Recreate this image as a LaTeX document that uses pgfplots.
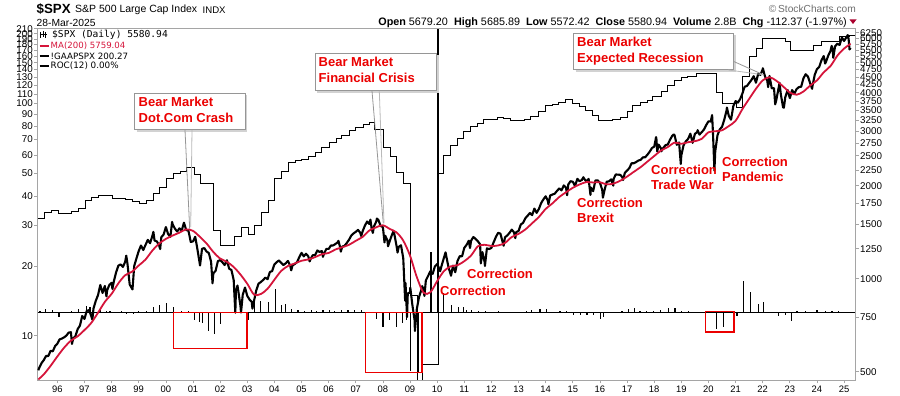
\documentclass[border=0pt]{standalone}
\usepackage{pgfplots}
\pgfplotsset{compat=1.18}
\usepackage{fontspec}
\setmainfont{Liberation Sans}
\newfontfamily\dejavu{DejaVu Sans}
\newfontfamily\dejavumono{DejaVu Sans Mono}
\definecolor{mared}{RGB}{213,20,58}
\definecolor{annred}{RGB}{235,0,0}
\definecolor{framegray}{RGB}{165,165,165}
\definecolor{boxgray}{RGB}{150,150,150}
\definecolor{scgray}{RGB}{110,110,110}
\definecolor{tridark}{RGB}{170,0,45}
\pgfplotsset{base/.style={at={(37pt,15.5pt)}, anchor=south west, scale only axis,
  width=818.5pt, height=352pt, xmin=1995.25, xmax=2025.42,
  axis line style={framegray, line width=0.8pt}, tick style={framegray, line width=0.6pt},
  major tick length=3pt, tick align=outside,
  tick label style={font=\fontsize{9.8}{10}\selectfont, text=black},
  /pgf/number format/assume math mode=true}}
\begin{document}
\begin{tikzpicture}
\path (0pt,0pt) rectangle (900pt,396pt);
% ---------- earnings (left log axis) ----------
\begin{axis}[base, ymode=log, ymin=6.417, ymax=210.5, hide x axis, axis y line*=left,
  ytick={10,20,30,40,50,60,70,80,90,100,110,120,130,140,150,160,170,180,190,200,210},
  yticklabels={10,20,30,40,50,60,70,80,90,100,110,120,130,140,150,160,170,180,190,200,210},
  yticklabel style={inner sep=1pt}, minor ytick={}]
\addplot[const plot, black, line width=0.9pt] coordinates {
(1995.25,32.0) (1995.52,33.8) (1995.79,34.6) (1996.04,33.7) (1996.53,34.3) (1996.77,35.5)
(1997.02,38.1) (1997.26,39.6) (1997.51,40.2) (1998.02,39.0) (1998.51,38.6) (1998.76,37.7)
(1999.01,37.2) (1999.29,38.1) (1999.53,41.0) (1999.78,43.7) (2000.02,47.5) (2000.27,50.2)
(2000.52,50.9) (2000.76,53.0) (2001.07,49.4) (2001.29,45.2) (2001.77,28.5) (2002.02,24.6)
(2002.54,26.7) (2002.78,29.4) (2003.03,27.4) (2003.28,29.9) (2003.53,33.8) (2003.78,38.3)
(2004.02,47.8) (2004.27,51.1) (2004.51,55.5) (2004.76,57.0) (2005.00,57.5) (2005.25,58.9)
(2005.50,61.8) (2005.74,65.0) (2006.02,68.3) (2006.29,71.0) (2006.48,72.9) (2006.76,76.7)
(2007.00,79.2) (2007.27,81.1) (2007.50,83.2) (2007.68,77.2) (2008.01,65.0) (2008.28,58.9)
(2008.50,50.7) (2008.75,45.2) (2009.02,14.9) (2009.27,6.0) (2009.47,7.5) (2010.03,50.1)
(2010.24,59.7) (2010.49,65.9) (2010.73,70.8) (2010.98,75.7) (2011.23,79.5) (2011.47,82.2)
(2011.72,85.7) (2012.21,86.9) (2012.46,86.5) (2012.70,84.6) (2013.23,85.7) (2013.44,88.3)
(2013.72,92.3) (2013.99,97.9) (2014.24,99.2) (2014.48,101.2) (2014.73,103.9) (2014.98,100.2)
(2015.25,96.9) (2015.47,93.7) (2015.72,89.2) (2015.96,84.6) (2016.45,85.7) (2016.76,86.9)
(2017.00,92.3) (2017.21,97.9) (2017.49,101.2) (2017.74,103.0) (2017.95,107.0) (2018.26,112.5)
(2018.50,120.0) (2018.74,126.2) (2018.99,129.2) (2019.23,131.2) (2019.54,134.8) (2020.28,112.0)
(2020.52,100.0) (2021.02,96.0) (2021.26,130.5) (2021.51,159.0) (2021.77,172.7) (2022.00,190.7)
(2022.85,184.5) (2023.02,169.8) (2023.87,178.4) (2024.18,184.5) (2024.82,193.9) (2025.19,195.6)
(2025.42,195.6)};
\end{axis}
% ---------- ROC(12) bars ----------
\begin{axis}[base, hide axis, ymin=-83.2, ymax=346.1]
\addplot[black, line width=0.8pt] coordinates {(1995.25,0) (2025.42,0)};
\addplot[ycomb, black, line width=1.2pt] coordinates {
(1995.36,1.2) (1995.55,3.7) (1995.82,2.4) (1996.06,-5.2) (1996.53,1.5) (1996.77,3.7)
(1997.08,7.3) (1997.2,6) (1997.32,2.4) (1997.57,3.7) (1997.81,2) (1997.94,2) (1998.25,-1.2)
(1998.37,1.5) (1998.55,-1.5) (1998.8,-1.5) (1998.98,1) (1999.29,1.3) (1999.53,6) (1999.78,9)
(2000.02,11) (2000.27,6) (2000.57,1.2) (2000.82,1.2) (2001.07,-9.4) (2001.25,-12) (2001.34,-12.6)
(2001.56,-23) (2001.8,-26.5) (2002.02,-14.2) (2002.54,8) (2002.78,10) (2003.06,-9.4)
(2003.28,13) (2003.5,14) (2003.77,13) (2004.03,28) (2004.26,9) (2004.4,10) (2004.62,4)
(2004.87,2.5) (2005.12,2) (2005.36,2.5) (2005.54,2) (2005.79,3) (2006.04,3) (2006.22,2)
(2006.46,3) (2006.71,3) (2006.96,2.5) (2007.2,2.5) (2007.75,-8) (2008.0,-17.5) (2008.24,-10)
(2008.51,-18) (2008.73,-12.6) (2008.86,-9.4) (2009.02,-72) (2009.29,-74) (2009.77,74)
(2010.01,400) (2010.05,400) (2010.23,24) (2010.54,9) (2010.78,6.5) (2010.97,6.5) (2011.09,3.3)
(2011.28,3.3) (2011.52,2) (2011.77,2) (2012.26,1) (2012.57,-1) (2012.81,-1) (2013.30,1.2)
(2013.49,2.4) (2013.79,4.5) (2014.04,4.5) (2014.53,2) (2014.78,1.2) (2015.02,-3.7) (2015.27,-3.7)
(2015.52,-3.7) (2015.76,-3.7) (2016.01,-8) (2016.12,-6) (2016.81,1.2) (2017.05,4) (2017.26,5)
(2017.48,2) (2017.73,2) (2017.97,2) (2018.22,3.3) (2018.53,5) (2018.77,5) (2019.02,1.2)
(2019.26,1.2) (2020.0,2) (2020.31,-20) (2020.55,-18) (2021.05,-4) (2021.29,38) (2021.54,25)
(2021.84,10.5) (2022.03,12) (2022.58,-5) (2022.83,-3.7) (2023.07,-11) (2023.26,1.2) (2023.57,2)
(2024.0,3.3) (2024.30,1.2) (2024.55,2) (2024.79,1.2)};
\end{axis}
% ---------- price (right log axis) ----------
\begin{axis}[base, ymode=log, ymin=468.2, ymax=6453,
  ytick pos=right, yticklabel pos=right, xtick pos=bottom,
  xtick={1996,...,2025},
  xticklabels={96,97,98,99,00,01,02,03,04,05,06,07,08,09,10,11,12,13,14,15,16,17,18,19,20,21,22,23,24,25},
  ytick={500,750,1000,1250,1500,1750,2000,2250,2500,2750,3000,3250,3500,3750,4000,4250,4500,4750,5000,5250,5500,5750,6000,6250},
  yticklabels={500,750,1000,1250,1500,1750,2000,2250,2500,2750,3000,3250,3500,3750,4000,4250,4500,4750,5000,5250,5500,5750,6000,6250},
  minor ytick={}, yticklabel style={inner sep=1.5pt}, xticklabel style={inner sep=2pt, font=\fontsize{9.4}{10}\selectfont}]
\addplot[black, line width=2.1pt, line join=round] coordinates {
(1995.30,505) (1995.333,515) (1995.417,533) (1995.5,545) (1995.583,562) (1995.667,562) (1995.75,584)
(1995.833,582) (1995.917,605) (1996.0,616) (1996.083,636) (1996.167,640) (1996.25,646) (1996.333,654)
(1996.417,669) (1996.5,671) (1996.54,615) (1996.583,640) (1996.667,652) (1996.75,687) (1996.833,705)
(1996.917,757) (1997.0,741) (1997.083,786) (1997.167,791) (1997.25,757) (1997.29,737) (1997.333,801)
(1997.417,848) (1997.5,885) (1997.583,954) (1997.667,899) (1997.75,947) (1997.81,876) (1997.833,915)
(1997.917,955) (1998.0,970) (1998.03,927) (1998.083,980) (1998.167,1049) (1998.25,1102) (1998.333,1112)
(1998.417,1091) (1998.5,1134) (1998.54,1187) (1998.583,1121) (1998.667,957) (1998.77,923) (1998.833,1099)
(1998.917,1164) (1999.0,1229) (1999.083,1280) (1999.167,1238) (1999.25,1286) (1999.333,1335)
(1999.417,1302) (1999.5,1373) (1999.54,1418) (1999.583,1329) (1999.667,1320) (1999.75,1283)
(1999.79,1247) (1999.833,1363) (1999.917,1389) (2000.0,1469) (2000.083,1394) (2000.167,1366)
(2000.23,1527) (2000.25,1499) (2000.333,1452) (2000.417,1421) (2000.5,1455) (2000.583,1431)
(2000.667,1518) (2000.75,1437) (2000.833,1429) (2000.917,1315) (2001.0,1320) (2001.083,1366)
(2001.167,1240) (2001.26,1103) (2001.333,1249) (2001.417,1256) (2001.5,1224) (2001.583,1211)
(2001.667,1134) (2001.72,966) (2001.75,1041) (2001.833,1060) (2001.917,1139) (2002.0,1148)
(2002.083,1130) (2002.167,1107) (2002.25,1147) (2002.333,1077) (2002.417,1067) (2002.5,990)
(2002.56,776) (2002.583,912) (2002.64,950) (2002.667,916) (2002.75,815) (2002.77,777) (2002.833,886)
(2002.917,936) (2003.0,880) (2003.083,856) (2003.167,841) (2003.19,800) (2003.25,848) (2003.333,917)
(2003.417,964) (2003.5,975) (2003.583,990) (2003.667,1008) (2003.75,996) (2003.833,1051)
(2003.917,1058) (2004.0,1112) (2004.083,1131) (2004.167,1145) (2004.25,1126) (2004.333,1107)
(2004.417,1121) (2004.5,1141) (2004.583,1102) (2004.62,1064) (2004.667,1104) (2004.75,1115)
(2004.833,1130) (2004.917,1174) (2005.0,1212) (2005.083,1181) (2005.167,1204) (2005.25,1181)
(2005.3,1137) (2005.333,1157) (2005.417,1192) (2005.5,1191) (2005.583,1234) (2005.667,1220)
(2005.75,1229) (2005.79,1177) (2005.833,1207) (2005.917,1249) (2006.0,1248) (2006.083,1280)
(2006.167,1281) (2006.25,1295) (2006.333,1311) (2006.36,1326) (2006.417,1270) (2006.45,1223)
(2006.5,1270) (2006.583,1277) (2006.667,1304) (2006.75,1336) (2006.833,1378) (2006.917,1401)
(2007.0,1418) (2007.083,1438) (2007.167,1407) (2007.2,1374) (2007.25,1421) (2007.333,1482)
(2007.417,1531) (2007.5,1503) (2007.54,1553) (2007.583,1455) (2007.63,1406) (2007.667,1474)
(2007.75,1527) (2007.78,1565) (2007.833,1549) (2007.917,1481) (2008.0,1468) (2008.06,1310)
(2008.083,1378) (2008.167,1331) (2008.19,1273) (2008.25,1323) (2008.333,1386) (2008.39,1426)
(2008.417,1400) (2008.5,1280) (2008.54,1215) (2008.583,1267) (2008.667,1283) (2008.75,1165)
(2008.82,848) (2008.833,969) (2008.89,752) (2008.917,896) (2009.0,903) (2009.01,935) (2009.083,826)
(2009.167,735) (2009.18,677) (2009.25,798) (2009.333,873) (2009.417,919) (2009.45,946) (2009.5,919)
(2009.53,879) (2009.583,987) (2009.667,1021) (2009.75,1057) (2009.833,1036) (2009.917,1096)
(2010.0,1115) (2010.083,1074) (2010.11,1057) (2010.167,1104) (2010.25,1169) (2010.31,1217)
(2010.333,1187) (2010.417,1089) (2010.5,1031) (2010.51,1022) (2010.583,1102) (2010.667,1049)
(2010.75,1141) (2010.833,1183) (2010.917,1181) (2011.0,1258) (2011.083,1286) (2011.167,1327)
(2011.21,1256) (2011.25,1326) (2011.333,1364) (2011.417,1345) (2011.5,1321) (2011.583,1292)
(2011.61,1120) (2011.667,1219) (2011.75,1131) (2011.76,1099) (2011.833,1253) (2011.917,1247)
(2012.0,1258) (2012.083,1312) (2012.167,1366) (2012.25,1408) (2012.333,1398) (2012.417,1310)
(2012.45,1278) (2012.5,1362) (2012.583,1379) (2012.667,1407) (2012.75,1441) (2012.833,1412)
(2012.88,1353) (2012.917,1416) (2013.0,1426) (2013.083,1498) (2013.167,1515) (2013.25,1569)
(2013.333,1598) (2013.417,1631) (2013.5,1606) (2013.583,1686) (2013.667,1633) (2013.75,1682)
(2013.833,1757) (2013.917,1806) (2014.0,1848) (2014.083,1783) (2014.1,1741) (2014.167,1859)
(2014.25,1872) (2014.333,1884) (2014.417,1924) (2014.5,1960) (2014.583,1931) (2014.667,2003)
(2014.75,1972) (2014.79,1862) (2014.833,2018) (2014.917,2068) (2015.0,2059) (2015.083,1995)
(2015.167,2105) (2015.25,2068) (2015.333,2086) (2015.39,2130) (2015.417,2107) (2015.5,2063)
(2015.583,2104) (2015.65,1867) (2015.667,1972) (2015.75,1920) (2015.833,2079) (2015.917,2080)
(2016.0,2044) (2016.083,1940) (2016.11,1829) (2016.167,1932) (2016.25,2060) (2016.333,2065)
(2016.417,2097) (2016.49,2000) (2016.5,2099) (2016.583,2174) (2016.667,2171) (2016.75,2168)
(2016.833,2126) (2016.85,2085) (2016.917,2199) (2017.0,2239) (2017.083,2279) (2017.167,2364)
(2017.25,2363) (2017.333,2384) (2017.417,2412) (2017.5,2423) (2017.583,2470) (2017.667,2472)
(2017.75,2519) (2017.833,2575) (2017.917,2648) (2018.0,2674) (2018.07,2873) (2018.083,2824)
(2018.11,2581) (2018.167,2714) (2018.25,2641) (2018.26,2582) (2018.333,2648) (2018.417,2705)
(2018.5,2718) (2018.583,2816) (2018.667,2902) (2018.72,2930) (2018.75,2914) (2018.833,2712)
(2018.917,2760) (2018.98,2351) (2019.0,2507) (2019.083,2704) (2019.167,2784) (2019.25,2834)
(2019.333,2946) (2019.417,2752) (2019.5,2942) (2019.583,2980) (2019.6,3025) (2019.667,2926)
(2019.75,2977) (2019.833,3038) (2019.917,3141) (2020.0,3231) (2020.083,3226) (2020.135,3386)
(2020.167,2954) (2020.22,2237) (2020.25,2585) (2020.333,2912) (2020.417,3044) (2020.5,3100)
(2020.583,3271) (2020.667,3500) (2020.68,3580) (2020.75,3363) (2020.833,3270) (2020.917,3622)
(2021.0,3756) (2021.083,3714) (2021.167,3811) (2021.25,3973) (2021.333,4181) (2021.417,4204)
(2021.5,4298) (2021.583,4395) (2021.667,4523) (2021.75,4308) (2021.833,4605) (2021.917,4567)
(2022.0,4766) (2022.005,4797) (2022.083,4516) (2022.167,4374) (2022.2,4170) (2022.25,4530)
(2022.333,4132) (2022.417,4132) (2022.46,3667) (2022.5,3785) (2022.583,4130) (2022.62,4305)
(2022.667,3955) (2022.75,3586) (2022.78,3577) (2022.833,3872) (2022.917,4080) (2023.0,3840)
(2023.083,4077) (2023.167,3970) (2023.25,4109) (2023.333,4169) (2023.417,4180) (2023.5,4450)
(2023.583,4589) (2023.667,4508) (2023.75,4288) (2023.82,4117) (2023.833,4194) (2023.917,4568)
(2024.0,4770) (2024.083,4846) (2024.167,5096) (2024.25,5254) (2024.3,4967) (2024.333,5036)
(2024.417,5278) (2024.5,5460) (2024.54,5667) (2024.583,5522) (2024.6,5186) (2024.667,5648)
(2024.75,5762) (2024.833,5705) (2024.917,6032) (2025.0,5882) (2025.083,6041) (2025.135,6144)
(2025.167,5955) (2025.2,5521) (2025.24,5581)};
\addplot[mared, line width=1.8pt, smooth] coordinates {
(1995.30,472) (1995.5,490) (1995.75,522) (1996.0,560) (1996.25,598) (1996.5,630) (1996.75,651)
(1997.0,682) (1997.25,719) (1997.5,776) (1997.75,841) (1998.0,893) (1998.25,966) (1998.5,1026)
(1998.75,1053) (1999.0,1103) (1999.25,1153) (1999.5,1232) (1999.75,1298) (2000.0,1345)
(2000.25,1379) (2000.5,1409) (2000.75,1444) (2001.0,1428) (2001.25,1367) (2001.5,1300)
(2001.75,1220) (2002.0,1162) (2002.25,1134) (2002.5,1091) (2002.75,1031) (2003.0,963)
(2003.25,888) (2003.5,892) (2003.75,928) (2004.0,992) (2004.25,1059) (2004.5,1099) (2004.75,1120)
(2005.0,1143) (2005.25,1154) (2005.5,1174) (2005.75,1200) (2006.0,1211) (2006.25,1243)
(2006.5,1264) (2006.75,1287) (2007.0,1326) (2007.25,1365) (2007.5,1432) (2007.75,1466)
(2008.0,1489) (2008.25,1449) (2008.5,1412) (2008.75,1328) (2009.0,1187) (2009.25,1012)
(2009.5,900) (2009.75,904) (2010.0,982) (2010.25,1058) (2010.5,1096) (2010.75,1106) (2011.0,1139)
(2011.25,1188) (2011.5,1273) (2011.75,1287) (2012.0,1276) (2012.25,1281) (2012.5,1305)
(2012.75,1364) (2013.0,1396) (2013.25,1443) (2013.5,1511) (2013.75,1584) (2014.0,1682)
(2014.25,1753) (2014.5,1838) (2014.75,1904) (2015.0,1969) (2015.25,2018) (2015.5,2054)
(2015.75,2048) (2016.0,2052) (2016.25,2019) (2016.5,2032) (2016.75,2075) (2017.0,2140)
(2017.25,2218) (2017.5,2296) (2017.75,2393) (2018.0,2494) (2018.25,2598) (2018.5,2667)
(2018.75,2756) (2019.0,2732) (2019.25,2765) (2019.5,2786) (2019.75,2835) (2020.0,2977)
(2020.25,3000) (2020.5,3021) (2020.75,3119) (2021.0,3242) (2021.25,3538) (2021.5,3819)
(2021.75,4116) (2022.0,4382) (2022.25,4488) (2022.5,4372) (2022.75,4191) (2023.0,4004)
(2023.25,3940) (2023.5,4033) (2023.75,4218) (2024.0,4383) (2024.25,4656) (2024.5,4879)
(2024.75,5267) (2025.0,5558) (2025.24,5759)};
\end{axis}
% ---------- annotations (pixel frame, y downwards) ----------
\begin{scope}[x=1pt, y=-1pt, shift={(0pt,396pt)}]
% header
\node[anchor=west, inner sep=0, font=\bfseries\fontsize{13.3}{13}\selectfont] at (36.5,9.3) {\$SPX};
\node[anchor=west, inner sep=0, font=\fontsize{10.5}{11}\selectfont] at (75,9.5) {S\&P 500 Large Cap Index};
\node[anchor=west, inner sep=0, font=\fontsize{9.6}{10}\selectfont] at (202.5,9.8) {INDX};
\node[anchor=west, inner sep=0, font=\fontsize{10.3}{11}\selectfont] at (36.5,22.7) {28-Mar-2025};
\node[anchor=east, inner sep=0, font=\fontsize{10.2}{11}\selectfont, text=scgray] at (856,8.5) {©\,StockCharts.com};
\node[anchor=east, inner sep=0, font=\fontsize{10.8}{11}\selectfont] at (847,22.7)
  {\textbf{Open} 5679.20\ \ \textbf{High} 5685.89\ \ \textbf{Low} 5572.42\ \ \textbf{Close} 5580.94\ \ \textbf{Volume} 2.8B\ \ \textbf{Chg} -112.37 (-1.97\%)};
\fill[tridark] (849.5,19.5) -- (856.5,19.5) -- (853,24) -- cycle;
% legend
\draw[black, line width=1pt] (40.5,32) -- (40.5,38) (43,31) -- (43,37.5) (45.5,32) -- (45.5,38.5) (39.5,35)--(47,35);
\node[anchor=west, inner sep=0, font=\dejavumono\fontsize{9.6}{10}\selectfont] at (52,35) {\$SPX (Daily) 5580.94};
\draw[mared, line width=1.8pt] (39.5,46) -- (48.5,46);
\node[anchor=west, inner sep=0, font=\dejavu\fontsize{8.6}{10}\selectfont, text=mared] at (50.5,46) {MA(200) 5759.04};
\draw[black, line width=1.8pt] (39.5,56) -- (48.5,56);
\node[anchor=west, inner sep=0, font=\dejavu\fontsize{8.7}{10}\selectfont] at (50.5,56) {!GAAPSPX 200.27};
\draw[black, line width=1.8pt] (39.5,66) -- (48.5,66);
\node[anchor=west, inner sep=0, font=\dejavu\fontsize{8.8}{10}\selectfont] at (50.5,66) {ROC(12) 0.00\%};
% callout boxes
\draw[gray!35, line width=2pt] (136.5,131) -- (246.3,131) -- (246.3,95);
\draw[boxgray, line width=0.9pt, fill=white] (134.5,93) rectangle (245,129.8);
\node[anchor=north west, inner sep=0, align=left, text=annred, font=\bfseries\fontsize{13}{16}\selectfont] at (138.5,97) {Bear Market\\Dot.Com Crash};
\draw[boxgray, line width=0.8pt] (185,130) -- (189.7,229);
\draw[gray!55, line width=0.8pt] (192,130) -- (190.7,227);
\draw[gray!35, line width=2pt] (317,92) -- (437.8,92) -- (437.8,55.5);
\draw[boxgray, line width=0.9pt, fill=white] (315,53.5) rectangle (436.5,90.5);
\node[anchor=north west, inner sep=0, align=left, text=annred, font=\bfseries\fontsize{13}{16}\selectfont] at (318.5,57) {Bear Market\\Financial Crisis};
\draw[boxgray, line width=0.8pt] (372,91) -- (383.3,223.3);
\draw[gray!55, line width=0.8pt] (379.3,91) -- (384,223.3);
\draw[gray!35, line width=2pt] (575.5,70.8) -- (734.8,70.8) -- (734.8,35);
\draw[boxgray, line width=0.9pt, fill=white] (573.3,33) rectangle (733.3,69.5);
\node[anchor=north west, inner sep=0, align=left, text=annred, font=\bfseries\fontsize{13}{16}\selectfont] at (577,36.5) {Bear Market\\Expected Recession};
\draw[boxgray, line width=0.8pt] (733.3,61.3) -- (763.3,74.7);
\draw[gray!55, line width=0.8pt] (728.3,70) -- (763.3,74.7);
% correction labels
\node[anchor=north west, inner sep=0, align=left, text=annred, font=\bfseries\fontsize{13}{15}\selectfont] at (577,197.5) {Correction\\Brexit};
\node[anchor=north west, inner sep=0, align=left, text=annred, font=\bfseries\fontsize{13}{15}\selectfont] at (651,164.5) {Correction\\Trade War};
\node[anchor=north west, inner sep=0, align=left, text=annred, font=\bfseries\fontsize{13}{15}\selectfont] at (722,156.5) {Correction\\Pandemic};
\node[anchor=north west, inner sep=0, text=annred, font=\bfseries\fontsize{13}{15}\selectfont] at (467,268.5) {Correction};
\node[anchor=north west, inner sep=0, text=annred, font=\bfseries\fontsize{13}{15}\selectfont] at (440,285.5) {Correction};
% red boxes
\draw[annred, line width=1.5pt] (173.7,312.3) rectangle (247,348.3);
\draw[annred, line width=1.5pt] (365.7,312.3) rectangle (422,372.3);
\draw[annred, line width=1.5pt] (705.7,311.5) rectangle (734,332);
\end{scope}
\end{tikzpicture}
\end{document}
